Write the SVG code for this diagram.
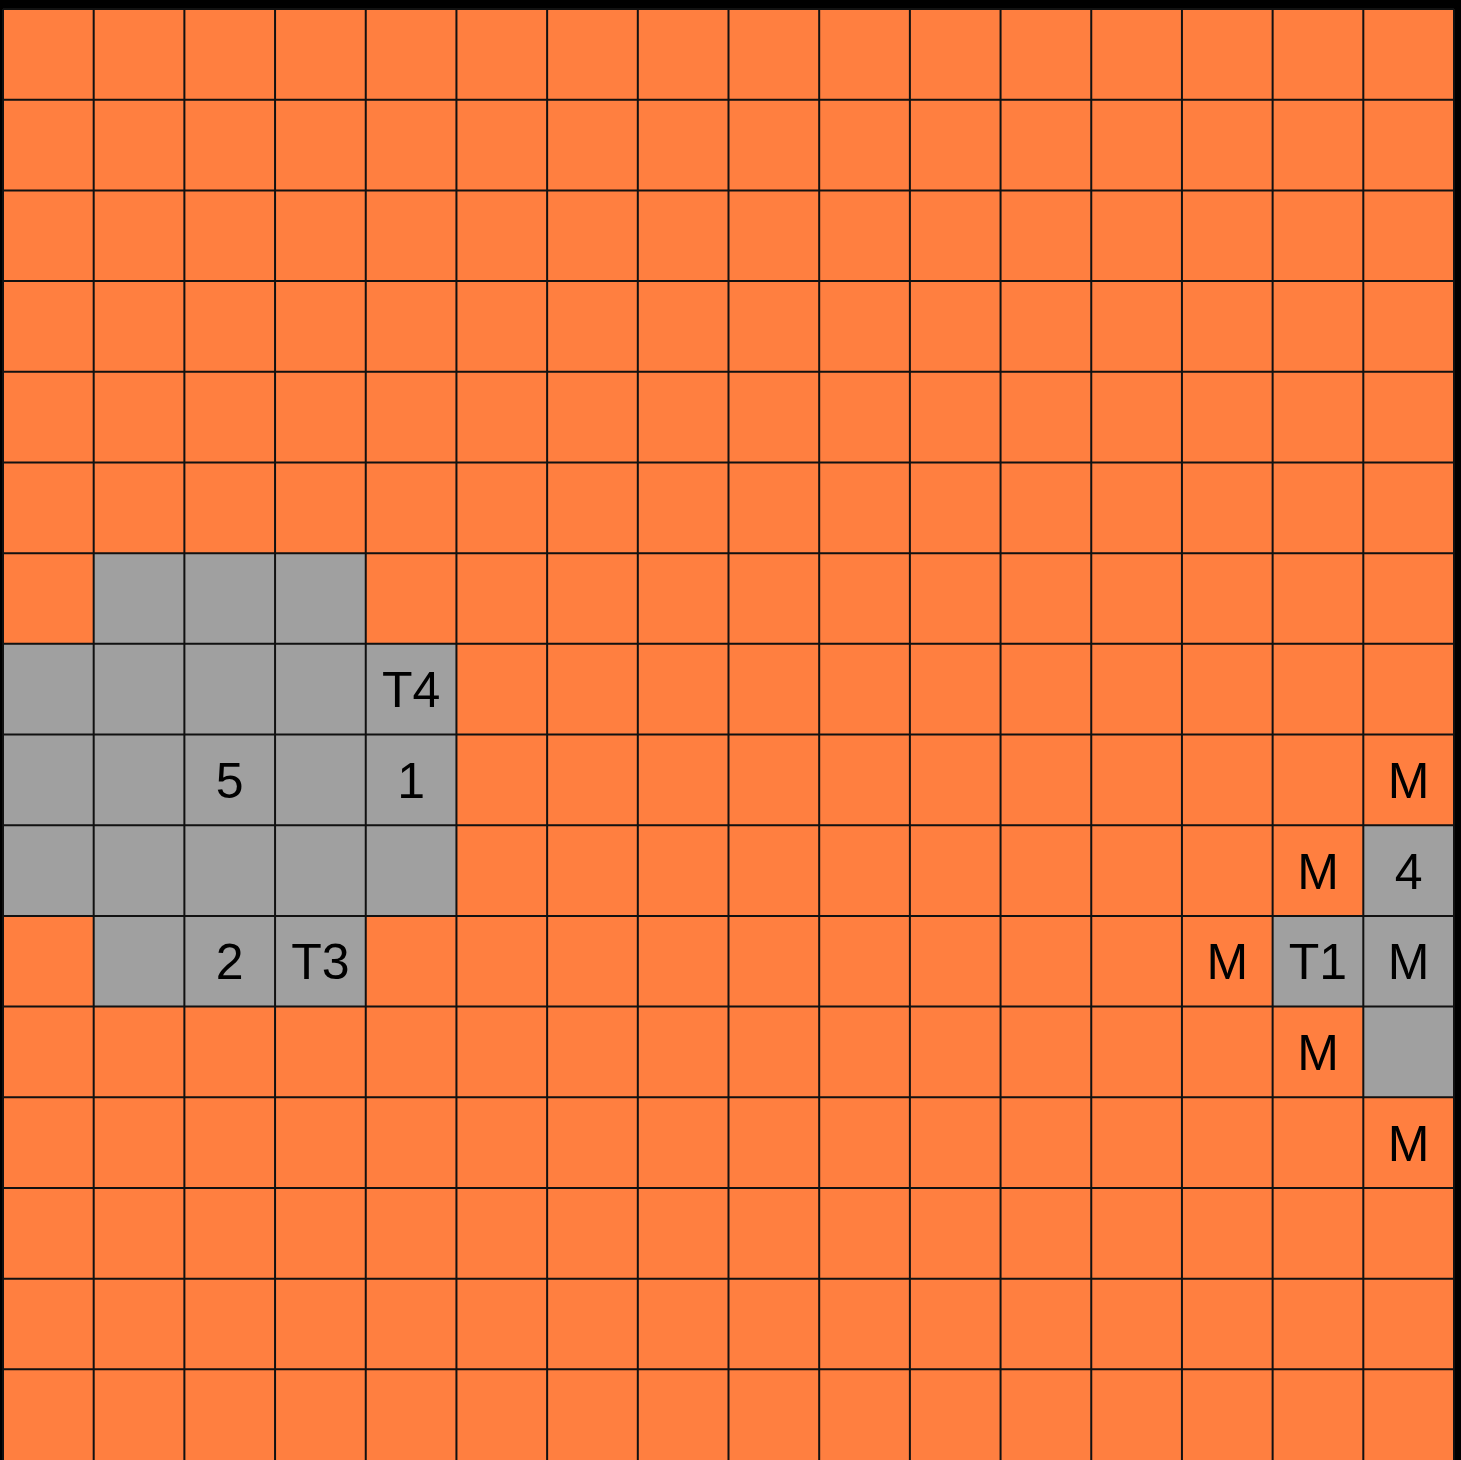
<svg xmlns="http://www.w3.org/2000/svg" width="1461" height="1460" viewBox="0 0 1461 1460">
  <style>
    .bg { fill: #000000; }
    .orange { fill: #FF7F40; }
    .gray { fill: #A0A0A0; }
    .grid { stroke: #111111; stroke-width: 2; fill: none; }
    .lbl { font-family: "Liberation Sans", Arial, sans-serif; font-size: 50px; fill: #000000; text-anchor: middle; }
  </style>
  <rect class="bg" x="0" y="0" width="1461" height="1460"/>
  <rect class="orange" x="3" y="9" width="1451" height="1451"/>
  <g id="gray-cells">
    <rect class="gray" x="93.69" y="553.13" width="272.06" height="90.69"/>
    <rect class="gray" x="3" y="643.81" width="453.44" height="272.06"/>
    <rect class="gray" x="93.69" y="915.88" width="272.06" height="90.69"/>
    <rect class="gray" x="1363.31" y="825.19" width="90.69" height="272.06"/>
    <rect class="gray" x="1272.63" y="915.88" width="90.69" height="90.69"/>
  </g>
  <g id="grid-lines">
    <path class="grid" d="M3,9V1460 M93.69,9V1460 M184.38,9V1460 M275.06,9V1460 M365.75,9V1460 M456.44,9V1460 M547.13,9V1460 M637.81,9V1460 M728.5,9V1460 M819.19,9V1460 M909.88,9V1460 M1000.56,9V1460 M1091.25,9V1460 M1181.94,9V1460 M1272.63,9V1460 M1363.31,9V1460 M1454,9V1460"/>
    <path class="grid" d="M3,9H1454 M3,99.69H1454 M3,190.38H1454 M3,281.06H1454 M3,371.75H1454 M3,462.44H1454 M3,553.13H1454 M3,643.81H1454 M3,734.5H1454 M3,825.19H1454 M3,915.88H1454 M3,1006.56H1454 M3,1097.25H1454 M3,1187.94H1454 M3,1278.63H1454 M3,1369.31H1454"/>
  </g>
  <g id="labels">
    <text class="lbl" x="411.09" y="707">T4</text>
    <text class="lbl" x="229.72" y="798">5</text>
    <text class="lbl" x="411.09" y="798">1</text>
    <text class="lbl" x="229.72" y="979">2</text>
    <text class="lbl" x="320.41" y="979">T3</text>
    <text class="lbl" x="1408.66" y="798">M</text>
    <text class="lbl" x="1317.97" y="888.5">M</text>
    <text class="lbl" x="1408.66" y="888.5">4</text>
    <text class="lbl" x="1227.28" y="979">M</text>
    <text class="lbl" x="1317.97" y="979">T1</text>
    <text class="lbl" x="1408.66" y="979">M</text>
    <text class="lbl" x="1317.97" y="1070">M</text>
    <text class="lbl" x="1408.66" y="1160.6">M</text>
  </g>
</svg>
